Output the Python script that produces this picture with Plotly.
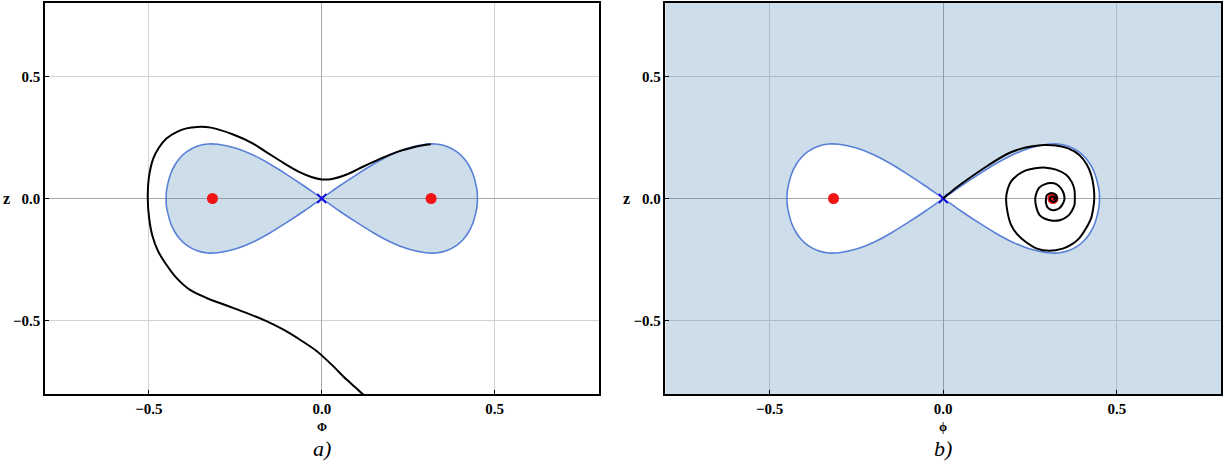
import plotly.graph_objects as go

# ---------------- data ----------------
# separatrix, upper-right quarter (phi, z); full curve built by mirror symmetry
sep_phi = [0.0, 0.02, 0.05, 0.10, 0.15, 0.20, 0.25, 0.30, 0.33, 0.36, 0.39, 0.41, 0.425, 0.437, 0.445, 0.449, 0.450]
sep_z   = [0.0, 0.020, 0.050, 0.097, 0.141, 0.179, 0.207, 0.222, 0.223, 0.214, 0.192, 0.166, 0.136, 0.100, 0.060, 0.030, 0.0]

# panel a) trajectory
traj_a_phi = [0.122, 0.095, 0.071, 0.033, 0.002, -0.015, -0.064, -0.112, -0.16, -0.218, -0.275, -0.333,
              -0.382, -0.42, -0.449, -0.473, -0.490, -0.499, -0.503, -0.500, -0.487, -0.47, -0.449, -0.42,
              -0.391, -0.36, -0.32, -0.256, -0.20, -0.16, -0.11, -0.064, -0.03, 0.0, 0.03, 0.07, 0.119,
              0.17, 0.216, 0.26, 0.293, 0.315]
traj_a_z = [-0.805, -0.770, -0.740, -0.686, -0.645, -0.624, -0.577, -0.536, -0.502, -0.468, -0.438, -0.407,
            -0.373, -0.325, -0.271, -0.216, -0.150, -0.080, 0.0, 0.083, 0.164, 0.210, 0.246, 0.272,
            0.287, 0.293, 0.290, 0.262, 0.226, 0.190, 0.145, 0.108, 0.088, 0.078, 0.080, 0.097, 0.130,
            0.163, 0.190, 0.208, 0.218, 0.222]

# panel b) spiral trajectory
traj_b_phi = [0.0, 0.04, 0.085, 0.13, 0.181, 0.22, 0.257, 0.29, 0.325, 0.36, 0.392, 0.413, 0.426, 0.433,
              0.435, 0.432, 0.426, 0.41, 0.392, 0.37, 0.344, 0.305, 0.27, 0.238, 0.212, 0.195, 0.185, 0.181,
              0.186, 0.195, 0.215, 0.238, 0.265, 0.296, 0.325, 0.354, 0.37, 0.378, 0.379, 0.378, 0.37,
              0.358, 0.338, 0.315, 0.293, 0.277, 0.268, 0.265, 0.27, 0.277, 0.292, 0.31, 0.327, 0.339,
              0.347, 0.349, 0.343, 0.334, 0.322, 0.31, 0.30, 0.296, 0.296, 0.298, 0.305, 0.315, 0.323,
              0.327, 0.327, 0.322, 0.315, 0.309, 0.308, 0.313, 0.32, 0.322, 0.318]
traj_b_z = [0.0, 0.047, 0.093, 0.136, 0.180, 0.202, 0.214, 0.219, 0.217, 0.205, 0.178, 0.140, 0.097, 0.050,
            0.0, -0.040, -0.080, -0.125, -0.162, -0.188, -0.205, -0.214, -0.205, -0.178, -0.145, -0.107,
            -0.055, 0.0, 0.040, 0.069, 0.097, 0.115, 0.124, 0.126, 0.118, 0.097, 0.068, 0.035, 0.0, -0.026,
            -0.052, -0.073, -0.088, -0.091, -0.083, -0.067, -0.035, 0.0, 0.028, 0.045, 0.058, 0.063, 0.058,
            0.042, 0.020, -0.005, -0.025, -0.040, -0.047, -0.046, -0.035, -0.019, 0.0, 0.012, 0.020, 0.022,
            0.016, 0.006, -0.004, -0.012, -0.013, -0.007, 0.002, 0.008, 0.006, 0.0, -0.004]

centers_phi = [-0.316, 0.316]
centers_z = [0.0, 0.0]
saddle_phi = [0.0]
saddle_z = [0.0]

axis_range = [-0.8, 0.8]
tick_vals = [-0.5, 0.0, 0.5]

# ---------------- build closed lobes ----------------
n = len(sep_phi)
# right lobe (clockwise): origin -> upper -> right tip -> lower -> origin
right_x = sep_phi + [sep_phi[i] for i in range(n - 2, -1, -1)]
right_y = sep_z + [-sep_z[i] for i in range(n - 2, -1, -1)]
# left lobe (clockwise): origin -> lower-left -> left tip -> upper-left -> origin
left_x = [-v for v in sep_phi] + [-sep_phi[i] for i in range(n - 2, -1, -1)]
left_y = [-v for v in sep_z] + [sep_z[i] for i in range(n - 2, -1, -1)]

sep_x = right_x + [None] + left_x
sep_y = right_y + [None] + left_y

lo, hi = axis_range
rect_x = [lo, hi, hi, lo, lo]
rect_y = [lo, lo, hi, hi, lo]

FILL = "rgba(60,120,170,0.25)"
BLUE = "rgb(88,128,215)"

fig = go.Figure()

# ---- panel a ----
fig.add_trace(go.Scatter(x=sep_x, y=sep_y, mode="lines", fill="toself", fillcolor=FILL,
                         line=dict(width=0, shape="spline", smoothing=0.6), hoverinfo="skip",
                         xaxis="x", yaxis="y", showlegend=False))
fig.add_trace(go.Scatter(x=sep_x, y=sep_y, mode="lines",
                         line=dict(color=BLUE, width=1.6, shape="spline", smoothing=0.6),
                         xaxis="x", yaxis="y", showlegend=False))
fig.add_trace(go.Scatter(x=traj_a_phi, y=traj_a_z, mode="lines",
                         line=dict(color="black", width=2, shape="spline", smoothing=0.8),
                         xaxis="x", yaxis="y", showlegend=False))
fig.add_trace(go.Scatter(x=centers_phi, y=centers_z, mode="markers",
                         marker=dict(color="#f01414", size=11, line=dict(width=0)),
                         xaxis="x", yaxis="y", showlegend=False))
fig.add_trace(go.Scatter(x=saddle_phi, y=saddle_z, mode="markers",
                         marker=dict(symbol="x-thin", size=9, line=dict(color="#1010e0", width=2)),
                         xaxis="x", yaxis="y", showlegend=False))

# ---- panel b ----
fig.add_trace(go.Scatter(x=rect_x + [None] + sep_x, y=rect_y + [None] + sep_y, mode="lines",
                         fill="toself", fillcolor=FILL,
                         line=dict(width=0, shape="spline", smoothing=0.6), hoverinfo="skip",
                         xaxis="x2", yaxis="y2", showlegend=False))
fig.add_trace(go.Scatter(x=sep_x, y=sep_y, mode="lines",
                         line=dict(color=BLUE, width=1.6, shape="spline", smoothing=0.6),
                         xaxis="x2", yaxis="y2", showlegend=False))
fig.add_trace(go.Scatter(x=centers_phi, y=centers_z, mode="markers",
                         marker=dict(color="#f01414", size=11, line=dict(width=0)),
                         xaxis="x2", yaxis="y2", showlegend=False))
fig.add_trace(go.Scatter(x=saddle_phi, y=saddle_z, mode="markers",
                         marker=dict(symbol="x-thin", size=9, line=dict(color="#1010e0", width=2)),
                         xaxis="x2", yaxis="y2", showlegend=False))
fig.add_trace(go.Scatter(x=traj_b_phi, y=traj_b_z, mode="lines",
                         line=dict(color="black", width=2, shape="spline", smoothing=0.8),
                         xaxis="x2", yaxis="y2", showlegend=False))

tickfont = dict(family="Liberation Serif", size=15, color="black", weight="bold")
axis_common = dict(range=axis_range, tickvals=tick_vals, tickformat=".1f", tickfont=tickfont,
                   showgrid=True, gridcolor="#d2d2d2", gridwidth=1,
                   zeroline=True, zerolinecolor="#a8a8a8", zerolinewidth=1,
                   showline=True, linecolor="black", linewidth=1.5, mirror=True,
                   ticks="inside", ticklen=4, tickcolor="black", fixedrange=True)

W, H = 1224, 463
ML, MR, MT, MB = 45, 2, 1, 69
pw = W - ML - MR
ph = H - MT - MB
d1_end = (599 - ML) / pw
d2_start = (666 - ML) / pw

fig.update_layout(
    width=W, height=H,
    margin=dict(l=ML, r=MR, t=MT, b=MB),
    paper_bgcolor="white", plot_bgcolor="white",
    xaxis=dict(domain=[0, d1_end], anchor="y", **axis_common),
    yaxis=dict(domain=[0, 1], anchor="x", **axis_common),
    xaxis2=dict(domain=[d2_start, 1], anchor="y2", **axis_common),
    yaxis2=dict(domain=[0, 1], anchor="x2", **axis_common),
    showlegend=False,
)

def py(p):
    return (H - MB - p) / ph

def px(p):
    return (p - ML) / pw

lab = dict(family="Liberation Serif", color="black")
anns = [
    dict(text="<b>z</b>", x=px(6), y=py(197), xref="paper", yref="paper", font=dict(size=16, **lab)),
    dict(text="<b>z</b>", x=px(627), y=py(197), xref="paper", yref="paper", font=dict(size=16, **lab)),
    dict(text="<b>Φ</b>", x=0, y=py(427), xref="x", yref="paper", font=dict(size=12, **lab)),
    dict(text="<b>ϕ</b>", x=0, y=py(427), xref="x2", yref="paper", font=dict(size=13, **lab)),
    dict(text="<i>a)</i>", x=0, y=py(449), xref="x", yref="paper", font=dict(size=22, **lab)),
    dict(text="<i>b)</i>", x=0, y=py(449), xref="x2", yref="paper", font=dict(size=22, **lab)),
]
for a in anns:
    a.update(showarrow=False, xanchor="center", yanchor="middle")
fig.update_layout(annotations=anns)

fig.write_html("out.html", config={"displayModeBar": False},
               post_script="document.body.style.margin='0';document.body.style.padding='0';")
